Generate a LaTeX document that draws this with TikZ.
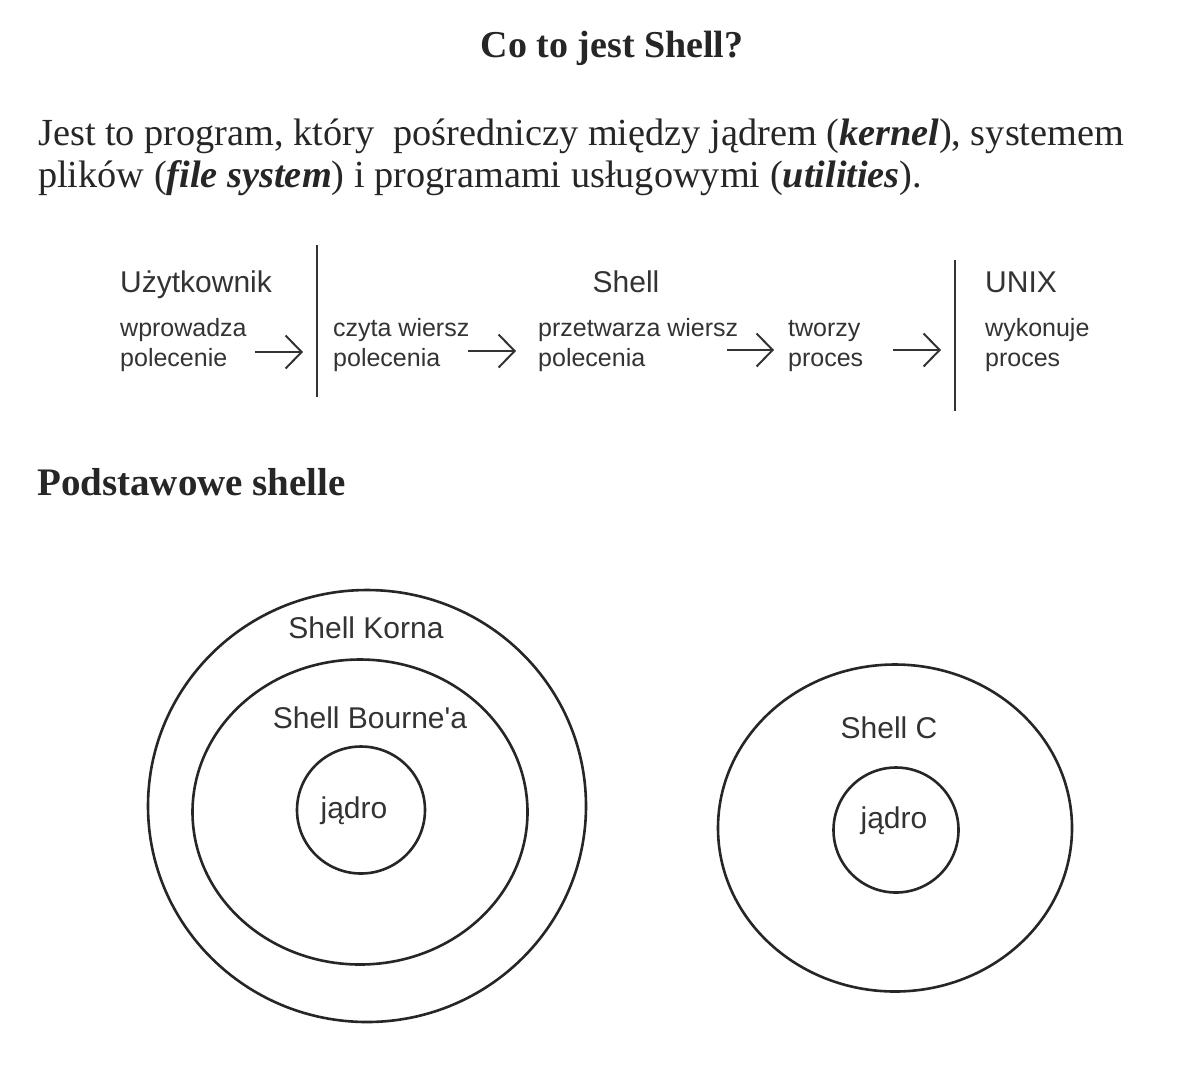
\documentclass[tikz,border=0pt]{standalone}
\usepackage{fontspec}
\setmainfont{Liberation Serif}
\setsansfont{Liberation Sans}
\newfontfamily\rawsans{Liberation Sans}[Ligatures=TeXOff]
\usetikzlibrary{arrows.meta,shapes.geometric}
\definecolor{ink}{gray}{0.15}
\definecolor{sink}{gray}{0.2}
\tikzset{
  txt/.style={inner sep=0pt, text=ink},
  head/.style={txt, font=\fontsize{30}{34}\selectfont\sffamily, text=sink},
  sub/.style={txt, font=\fontsize{25}{30}\selectfont\sffamily, text=sink, align=left},
  lbl/.style={txt, font=\fontsize{30}{34}\selectfont\sffamily, text=sink},
  flow/.style={line width=2pt, draw=sink, -{Straight Barb[length=16pt,width=33pt,line width=2pt]}},
  sep/.style={line width=2pt, draw=sink},
  ring/.style={draw=ink, line width=2.6pt, ellipse, inner sep=0pt},
  partext/.style={txt, anchor=base west, font=\fontsize{38.3}{42}\selectfont},
}
\begin{document}
\begin{tikzpicture}[x=1pt,y=-1pt]
\useasboundingbox (0,0) rectangle (1188,1080);
\fill[white] (0,0) rectangle (1188,1080);

% title and paragraph
\node[txt, anchor=base, font=\fontsize{38}{40}\selectfont\bfseries] (title) at (612,57) {Co to jest Shell?};
\node[partext] (par1) at (38,145)
  {Jest to program, który\ \ pośredniczy między jądrem (\textbf{\textit{kernel}}), systemem};
\node[partext] (par2) at (38,187)
  {plików (\textbf{\textit{file system}}) i programami usługowymi (\textbf{\textit{utilities}}).};

% flow row
\node[head, anchor=base west] (user) at (120,292) {Użytkownik};
\node[head, anchor=base] (shell) at (626,292) {Shell};
\node[head, anchor=base west] (unix) at (985,292) {UNIX};

\node[sub, anchor=base west] (s1) at (120,366) {wprowadza\\polecenie};
\node[sub, anchor=base west] (s2) at (333,366) {czyta wiersz\\polecenia};
\node[sub, anchor=base west] (s3) at (538,366) {przetwarza wiersz\\polecenia};
\node[sub, anchor=base west] (s4) at (788,366) {tworzy\\proces};
\node[sub, anchor=base west] (s5) at (985,366) {wykonuje\\proces};

\coordinate (l1t) at (317,245);
\coordinate (l1b) at (317,397);
\coordinate (l2t) at (955,260);
\coordinate (l2b) at (955,411);
\draw[sep] (l1t) -- (l1b);
\draw[sep] (l2t) -- (l2b);

\coordinate (a1s) at (255,352); \coordinate (a1e) at (303,352);
\coordinate (a2s) at (468,351); \coordinate (a2e) at (516,351);
\coordinate (a3s) at (727,350); \coordinate (a3e) at (774,350);
\coordinate (a4s) at (893,350); \coordinate (a4e) at (941,350);
\draw[flow] (a1s) -- (a1e);
\draw[flow] (a2s) -- (a2e);
\draw[flow] (a3s) -- (a3e);
\draw[flow] (a4s) -- (a4e);

% section heading
\node[txt, anchor=base west, font=\fontsize{39}{42}\selectfont\bfseries] (podst) at (37,495) {Podstawowe shelle};

% left rings
\node[ring, minimum width=438pt, minimum height=432pt] (korn) at (367,806) {};
\node[ring, minimum width=335pt, minimum height=305pt] (bourne) at (360,812) {};
\node[ring, minimum width=128pt, minimum height=127pt] (kern1) at (361,810) {};
\node[lbl, anchor=base] (kornl) at (366,638) {Shell Korna};
\node[lbl, anchor=base, font=\fontsize{30}{34}\selectfont\rawsans] (bournel) at (370,728) {Shell Bourne'a};
\node[lbl, anchor=base] (kern1l) at (354,818) {jądro};

% right rings
\node[ring, minimum width=354pt, minimum height=327pt] (cshell) at (895,828) {};
\node[ring, minimum width=125pt, minimum height=125pt] (kern2) at (896,830) {};
\node[lbl, anchor=base] (cshelll) at (889,738) {Shell C};
\node[lbl, anchor=base] (kern2l) at (894,828) {jądro};
\end{tikzpicture}
\end{document}
